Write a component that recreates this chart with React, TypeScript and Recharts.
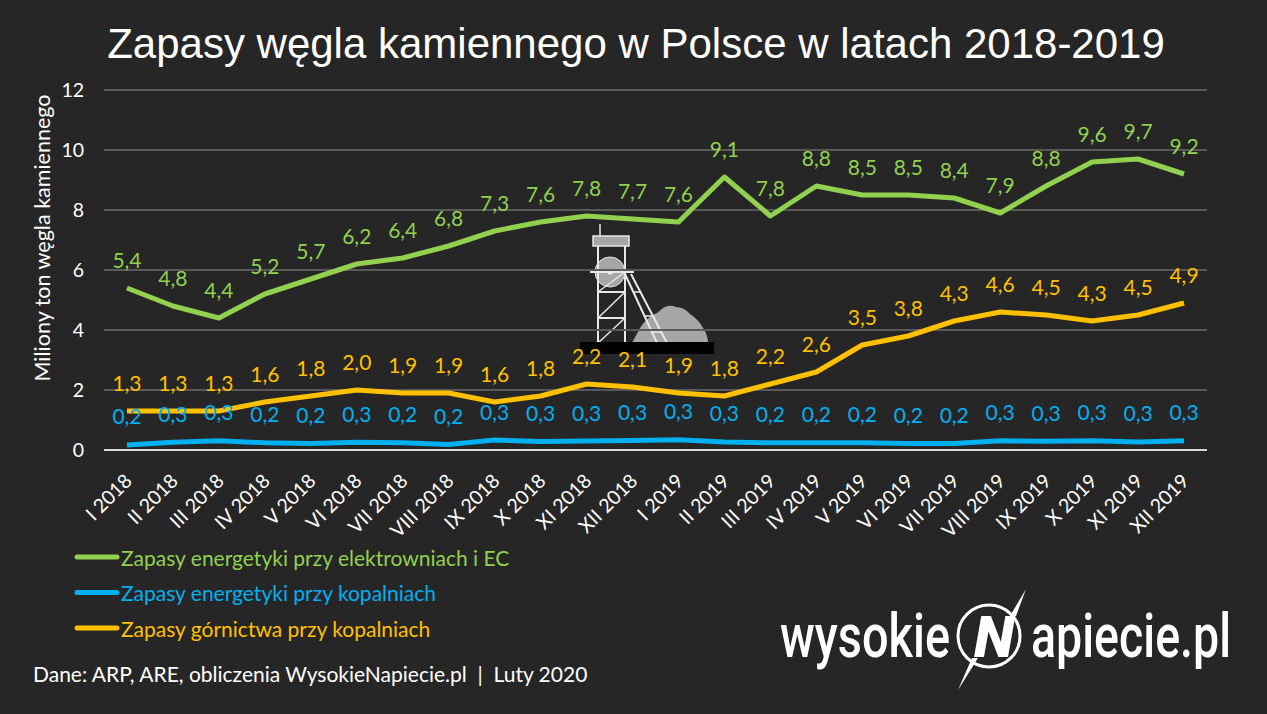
import React from 'react'
import { LineChart, Line, XAxis, YAxis, CartesianGrid, LabelList } from 'recharts'

const months = [
  'I 2018', 'II 2018', 'III 2018', 'IV 2018', 'V 2018', 'VI 2018', 'VII 2018', 'VIII 2018',
  'IX 2018', 'X 2018', 'XI 2018', 'XII 2018', 'I 2019', 'II 2019', 'III 2019', 'IV 2019',
  'V 2019', 'VI 2019', 'VII 2019', 'VIII 2019', 'IX 2019', 'X 2019', 'XI 2019', 'XII 2019',
]

// zapasy energetyki przy elektrowniach i EC
const powerPlants = [5.4, 4.8, 4.4, 5.2, 5.7, 6.2, 6.4, 6.8, 7.3, 7.6, 7.8, 7.7, 7.6, 9.1, 7.8, 8.8, 8.5, 8.5, 8.4, 7.9, 8.8, 9.6, 9.7, 9.2]
// zapasy energetyki przy kopalniach
const energyAtMines = [0.17, 0.26, 0.31, 0.24, 0.22, 0.26, 0.24, 0.18, 0.33, 0.28, 0.3, 0.32, 0.34, 0.27, 0.24, 0.24, 0.24, 0.22, 0.22, 0.31, 0.29, 0.31, 0.27, 0.31]
// zapasy górnictwa przy kopalniach
const miningAtMines = [1.3, 1.3, 1.3, 1.6, 1.8, 2.0, 1.9, 1.9, 1.6, 1.8, 2.2, 2.1, 1.9, 1.8, 2.2, 2.6, 3.5, 3.8, 4.3, 4.6, 4.5, 4.3, 4.5, 4.9]

const yTicks = [0, 2, 4, 6, 8, 10, 12]

const GREEN = '#92D050'
const BLUE = '#00B0F0'
const YELLOW = '#FFC000'
const BG = '#262626'
const FONT = 'Lato, "Open Sans", sans-serif'

const legendItems = [
  { name: 'Zapasy energetyki przy elektrowniach i EC', color: GREEN },
  { name: 'Zapasy energetyki przy kopalniach', color: BLUE },
  { name: 'Zapasy górnictwa przy kopalniach', color: YELLOW },
]

const rows = months.map((m, i) => ({
  i,
  month: m,
  green: powerPlants[i],
  blue: energyAtMines[i],
  yellow: miningAtMines[i],
}))

const fmt = (v: number) => v.toFixed(1).replace('.', ',')

const valueLabel = (color: string) => (props: any) => {
  const { x, y, value } = props
  return (
    <text x={x} y={y - 29} fill={color} textAnchor="middle" dominantBaseline="central" fontSize={21} fontFamily={FONT}>
      {fmt(value)}
    </text>
  )
}

const MonthTick = (props: any) => {
  const { x, y, payload } = props
  const tx = x + 1
  const ty = y + 19
  return (
    <text x={tx} y={ty} transform={`rotate(-45 ${tx} ${ty})`} textAnchor="end" dominantBaseline="central"
      fill="#ffffff" fontSize={19.5} fontFamily={FONT}>
      {months[payload.value]}
    </text>
  )
}

function MineIcon() {
  const st = '#e8e8e8'
  return (
    <g>
      <line x1={600} y1={224} x2={600} y2={236} stroke={st} strokeWidth={1.5} />
      <rect x={593} y={236} width={36} height={10} fill="#a6a6a6" stroke={st} strokeWidth={1.5} />
      <circle cx={610} cy={272} r={15} fill="#a6a6a6" stroke={st} strokeWidth={1} />
      <circle cx={610} cy={272} r={2.5} fill="#ffffff" />
      <path d="M632,343 L640,328 Q648,316 657,313 L663,308 Q670,304 676,307 Q684,307 690,314 Q699,320 703,328 Q708,335 708,343 Z" fill="#a6a6a6" />
      <line x1={598} y1={246} x2={598} y2={343} stroke={st} strokeWidth={2} />
      <line x1={625} y1={246} x2={625} y2={343} stroke={st} strokeWidth={2} />
      <line x1={590} y1={272} x2={634} y2={272} stroke={st} strokeWidth={2} />
      <line x1={598} y1={292} x2={625} y2={292} stroke={st} strokeWidth={2} />
      <line x1={598} y1={318} x2={625} y2={318} stroke={st} strokeWidth={2} />
      <line x1={598} y1={292} x2={625} y2={272} stroke={st} strokeWidth={1.5} />
      <line x1={598} y1={318} x2={625} y2={292} stroke={st} strokeWidth={1.5} />
      <line x1={598} y1={343} x2={625} y2={318} stroke={st} strokeWidth={1.5} />
      <line x1={625} y1={274} x2={657} y2={343} stroke={st} strokeWidth={2} />
      <line x1={631} y1={274} x2={667} y2={343} stroke={st} strokeWidth={2} />
      <line x1={634} y1={292} x2={640} y2={292} stroke={st} strokeWidth={1.5} />
      <line x1={645} y1={316} x2={653} y2={316} stroke={st} strokeWidth={1.5} />
      <line x1={652} y1={332} x2={661} y2={332} stroke={st} strokeWidth={1.5} />
      <rect x={580} y={342} width={134} height={12} fill="#000000" />
    </g>
  )
}

function Logo() {
  return (
    <g fill="#ffffff" fontFamily="Roboto, sans-serif" fontWeight={500}>
      <text x={780} y={657} fontSize={62} textLength={170} lengthAdjust="spacingAndGlyphs">wysokie</text>
      <circle cx={989} cy={636} r={31} fill="none" stroke="#ffffff" strokeWidth={3} />
      <text x={994} y={657} fontSize={58} fontStyle="italic" fontWeight={900} textAnchor="middle"
        textLength={40} lengthAdjust="spacingAndGlyphs">N</text>
      <polygon points="1026,589 1010,616 1016,616" fill="#ffffff" />
      <polygon points="958,690 972,658 978,658" fill="#ffffff" />
      <text x={1031} y={657} fontSize={62} textLength={200} lengthAdjust="spacingAndGlyphs">apiecie.pl</text>
    </g>
  )
}

export default function App() {
  return (
    <div style={{ position: 'fixed', left: 0, top: 0, width: 1267, height: 714, background: BG, overflow: 'hidden' }}>
      <svg width={1267} height={714} style={{ position: 'absolute', left: 0, top: 0 }}>
        <text x={636} y={58} fill="#ffffff" fontSize={42} fontFamily='"Liberation Sans", Arial, sans-serif' textAnchor="middle">
          Zapasy węgla kamiennego w Polsce w latach 2018-2019
        </text>
        <text x={42} y={238} fill="#ffffff" fontSize={21.5} fontFamily={FONT} textAnchor="middle" dominantBaseline="central"
          transform="rotate(-90 42 238)">
          Miliony ton węgla kamiennego
        </text>
        <MineIcon />
        {legendItems.map((it, k) => {
          const cy = 557 + k * 35.5
          return (
            <g key={it.name}>
              <line x1={77} y1={cy} x2={117} y2={cy} stroke={it.color} strokeWidth={5} strokeLinecap="round" />
              <text x={121} y={cy} fill={it.color} fontSize={21} fontFamily={FONT} dominantBaseline="central">{it.name}</text>
            </g>
          )
        })}
        <text x={33} y={673} fill="#ffffff" fontSize={21} fontFamily={FONT} dominantBaseline="central" xmlSpace="preserve">
          {'Dane: ARP, ARE, obliczenia WysokieNapiecie.pl  |  Luty 2020'}
        </text>
        <Logo />
      </svg>
      <div style={{ position: 'absolute', left: 0, top: 0 }}>
        <LineChart width={1267} height={714} data={rows} margin={{ top: 90, right: 60, bottom: 174, left: 54 }}>
          <CartesianGrid vertical={false} stroke="#595959" strokeWidth={2} />
          <XAxis dataKey="i" type="number" domain={[-0.5, 23.5]} ticks={rows.map(r => r.i)} interval={0}
            height={90} tickLine={false} axisLine={{ stroke: '#d9d9d9', strokeWidth: 2 }} tick={<MonthTick />} />
          <YAxis domain={[0, 12]} ticks={yTicks} width={50} tickLine={false} axisLine={false} tickMargin={14}
            tick={{ fill: '#ffffff', fontSize: 19.5, fontFamily: FONT }} />
          <Line type="linear" dataKey="green" stroke={GREEN} strokeWidth={5} dot={false} isAnimationActive={false} strokeLinejoin="round">
            <LabelList dataKey="green" content={valueLabel(GREEN)} />
          </Line>
          <Line type="linear" dataKey="yellow" stroke={YELLOW} strokeWidth={5} dot={false} isAnimationActive={false} strokeLinejoin="round">
            <LabelList dataKey="yellow" content={valueLabel(YELLOW)} />
          </Line>
          <Line type="linear" dataKey="blue" stroke={BLUE} strokeWidth={5} dot={false} isAnimationActive={false} strokeLinejoin="round">
            <LabelList dataKey="blue" content={valueLabel(BLUE)} />
          </Line>
        </LineChart>
      </div>
    </div>
  )
}
